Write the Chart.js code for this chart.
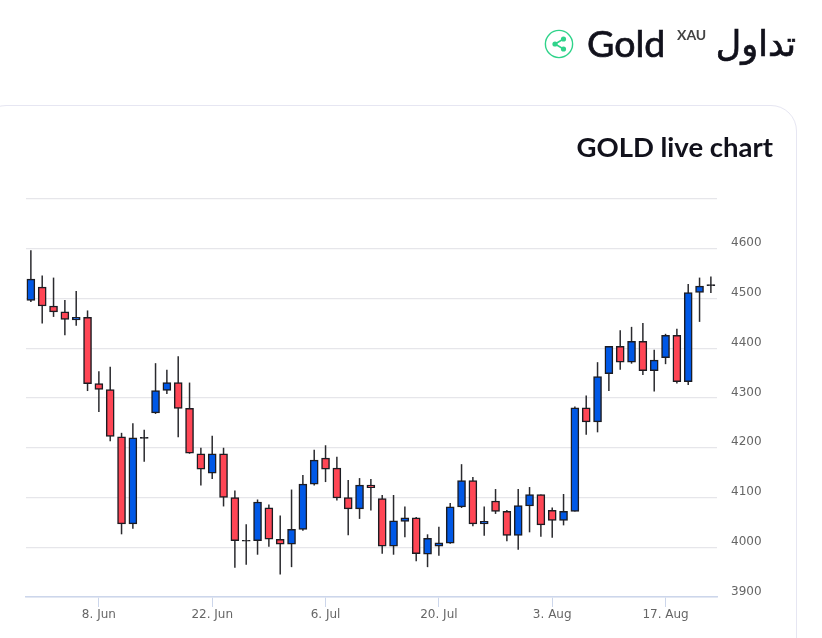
<!DOCTYPE html>
<html lang="ar">
<head>
<meta charset="utf-8">
<script src="https://cdn.jsdelivr.net/npm/chart.js@4"></script>
<style>
html,body{margin:0;padding:0;background:#fff;width:822px;height:638px;overflow:hidden}
#card{position:absolute;left:-20px;top:105px;width:815px;height:600px;border:1px solid #e6e6f2;border-radius:26px;box-sizing:content-box}
#c{position:absolute;left:0;top:0}
.t{position:absolute;white-space:nowrap;color:#11111b;font-family:Lato,sans-serif}
#ar{right:26px;top:21px;font:400 35px "DejaVu Sans",sans-serif;line-height:46px;-webkit-text-stroke:0.7px #11111b}
#gold{left:587px;top:20px;font-size:37.5px;font-weight:400;line-height:46px;-webkit-text-stroke:0.7px #11111b}
#xau{left:677px;top:27px;font-size:14px;font-weight:700;line-height:16px;color:#444}
#live{right:49px;top:130px;font-size:27.5px;font-weight:700;line-height:34px}
#share{position:absolute;left:544px;top:29px}
</style>
</head>
<body>
<div id="card"></div>
<canvas id="c" width="822" height="638"></canvas>
<svg id="share" width="30" height="30" viewBox="0 0 30 30" aria-hidden="true">
<circle cx="15" cy="15" r="13.6" fill="#fff" stroke="#2fd38a" stroke-width="1.4"/>
<path d="M19.5 10 L11 15 L19.5 20" fill="none" stroke="#2fd38a" stroke-width="1.6"/>
<circle cx="19.5" cy="10" r="2.6" fill="#2fd38a"/><circle cx="11" cy="15" r="2.6" fill="#2fd38a"/><circle cx="19.5" cy="20" r="2.6" fill="#2fd38a"/>
</svg>
<div class="t" id="ar" dir="rtl">تداول</div>
<div class="t" id="gold">Gold</div>
<div class="t" id="xau">XAU</div>
<div class="t" id="live">GOLD live chart</div>
<script>
const openP=[4496,4523,4485,4473,4457,4462,4329,4317,4222,4047,4219,4270,4315,4331,4279,4188,4149,4188,4100,4012,
4013,4079,4016,4006,4036,4127,4179,4159,4100,4077,4125,4098,4002,4052,4059,3986,4002,4008,4081,4134,
4047,4093,4072,4024,4083,4106,4074,4054,4072,4280,4252,4349,4404,4372,4414,4355,4381,4426,4333,4512,4526];
const closeP=[4539,4485,4473,4458,4462,4329,4317,4223,4047,4220,4221,4315,4331,4279,4189,4157,4188,4100,4013,4014,
4091,4016,4006,4036,4127,4175,4157,4099,4077,4125,4120,4002,4053,4059,3987,4018,4009,4081,4134,4047,
4052,4072,4024,4084,4106,4045,4054,4072,4280,4252,4343,4404,4372,4414,4355,4376,4426,4333,4512,4525,4528];
const highP=[4597,4546,4542,4497,4515,4476,4354,4363,4230,4249,4236,4370,4357,4384,4331,4200,4224,4200,4114,4046,
4096,4086,4064,4116,4145,4196,4205,4182,4135,4139,4137,4105,4105,4082,4061,4026,4041,4089,4167,4141,
4082,4117,4075,4117,4121,4106,4080,4107,4283,4305,4372,4404,4436,4443,4451,4397,4429,4439,4529,4542,4544];
const lowP=[4493,4450,4463,4426,4445,4314,4272,4213,4026,4037,4172,4268,4308,4221,4188,4124,4137,4082,3959,3965,
3985,4001,3945,3960,4033,4124,4131,4094,4024,4057,4074,3987,3985,4020,3972,3960,3983,4007,4079,4042,
4023,4067,4012,3995,4030,4021,4019,4044,4072,4226,4231,4314,4357,4369,4346,4313,4368,4329,4326,4453,4511];
const tickIndex=[6,16,26,36,46,56];
const tickLabels=["8. Jun","22. Jun","6. Jul","20. Jul","3. Aug","17. Aug"];
const priceTicks=[3900,4000,4100,4200,4300,4400,4500,4600];

const UP="#0058e6",DOWN="#ff4655",EDGE="#1c1c22",DOJI="#1c1c22";
const bodyColor=openP.map((o,i)=>Math.abs(closeP[i]-o)<=2?DOJI:(closeP[i]>o?UP:DOWN));

new Chart(document.getElementById("c"),{
  type:"bar",
  data:{datasets:[
    {label:"body",order:1,grouped:false,barThickness:8,borderWidth:1.5,borderColor:EDGE,borderSkipped:false,
     backgroundColor:bodyColor,data:openP.map((o,i)=>({x:i,y:[o,closeP[i]]}))},
    {label:"wick",order:2,grouped:false,barThickness:1.5,borderWidth:0,inflateAmount:0,
     backgroundColor:"#2a2a2e",data:highP.map((h,i)=>({x:i,y:[lowP[i],h]}))}
  ]},
  options:{
    responsive:false,animation:false,devicePixelRatio:1,
    layout:{padding:{left:26,top:199,right:0,bottom:0}},
    plugins:{legend:{display:false},tooltip:{enabled:false},title:{display:false}},
    scales:{
      x:{type:"linear",min:-0.43,max:60.54,offset:false,
         afterBuildTicks:s=>{s.ticks=tickIndex.map(v=>({value:v}))},
         afterFit:s=>{s.height=41},
         grid:{offset:false,drawOnChartArea:false,drawTicks:true,tickLength:10,tickColor:"#ccd6eb",tickWidth:1},
         border:{display:true,color:"#ccd6eb",width:1.5},
         ticks:{autoSkip:false,maxRotation:0,padding:1,color:"#666666",font:{family:"DejaVu Sans",size:12},
                callback:v=>tickLabels[tickIndex.indexOf(v)]}},
      y:{position:"right",min:3900,max:4700,
         afterBuildTicks:s=>{s.ticks=priceTicks.concat(4700).map(v=>({value:v}))},
         afterFit:s=>{s.width=105},
         grid:{color:"#e6e6ea",lineWidth:1.2,drawTicks:false},
         border:{display:false},
         ticks:{padding:14,labelOffset:-5.6,color:"#666666",font:{family:"DejaVu Sans",size:12},
                callback:v=>priceTicks.includes(v)?String(v):""}}
    }
  }
});
</script>
</body>
</html>
